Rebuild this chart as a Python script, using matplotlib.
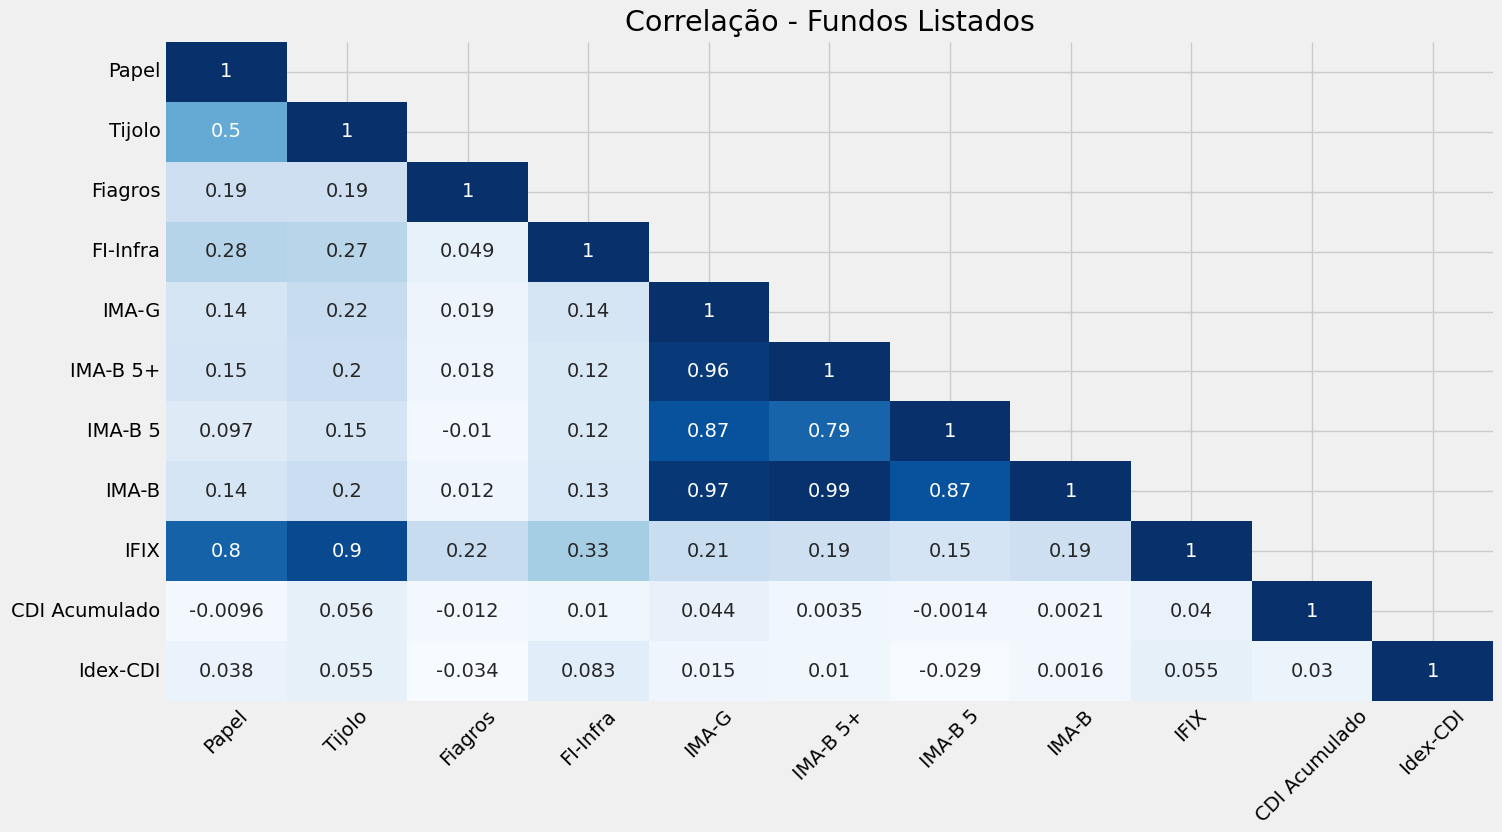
import numpy as np
import pandas as pd
import matplotlib
matplotlib.use("Agg")
import matplotlib.pyplot as plt
import seaborn as sns

# nomes das séries
nomes = ["Papel", "Tijolo", "Fiagros", "FI-Infra", "IMA-G", "IMA-B 5+",
         "IMA-B 5", "IMA-B", "IFIX", "CDI Acumulado", "Idex-CDI"]

# triângulo inferior da matriz de correlação (linha a linha)
linhas = [
    [1],
    [0.5, 1],
    [0.19, 0.19, 1],
    [0.28, 0.27, 0.049, 1],
    [0.14, 0.22, 0.019, 0.14, 1],
    [0.15, 0.2, 0.018, 0.12, 0.96, 1],
    [0.097, 0.15, -0.01, 0.12, 0.87, 0.79, 1],
    [0.14, 0.2, 0.012, 0.13, 0.97, 0.99, 0.87, 1],
    [0.8, 0.9, 0.22, 0.33, 0.21, 0.19, 0.15, 0.19, 1],
    [-0.0096, 0.056, -0.012, 0.01, 0.044, 0.0035, -0.0014, 0.0021, 0.04, 1],
    [0.038, 0.055, -0.034, 0.083, 0.015, 0.01, -0.029, 0.0016, 0.055, 0.03, 1],
]

n = len(nomes)
corr = np.zeros((n, n))
for i, linha in enumerate(linhas):
    for j, v in enumerate(linha):
        corr[i, j] = v
        corr[j, i] = v
corr = pd.DataFrame(corr, index=nomes, columns=nomes)

# esconde o triângulo superior (sem a diagonal)
mask = np.triu(np.ones((n, n), dtype=bool), k=1)

plt.style.use("fivethirtyeight")
fig = plt.figure(figsize=(15.02, 8.32), dpi=100)
ax = fig.add_axes([0.1105, 0.1575, 0.8835, 0.792])
sns.heatmap(corr, mask=mask, cmap="Blues", annot=True, cbar=False, ax=ax,
            annot_kws={"fontsize": 14})
ax.grid(True, color="#cbcbcb", linewidth=1)
ax.set_axisbelow(True)
ax.set_title("Correlação - Fundos Listados", fontsize=20.5, pad=8)
ax.tick_params(axis="both", length=0, labelsize=14, pad=4)
plt.setp(ax.get_xticklabels(), rotation=45, ha="center")
plt.setp(ax.get_yticklabels(), rotation=0)

fig.savefig("out.png", dpi=100, facecolor=fig.get_facecolor())
